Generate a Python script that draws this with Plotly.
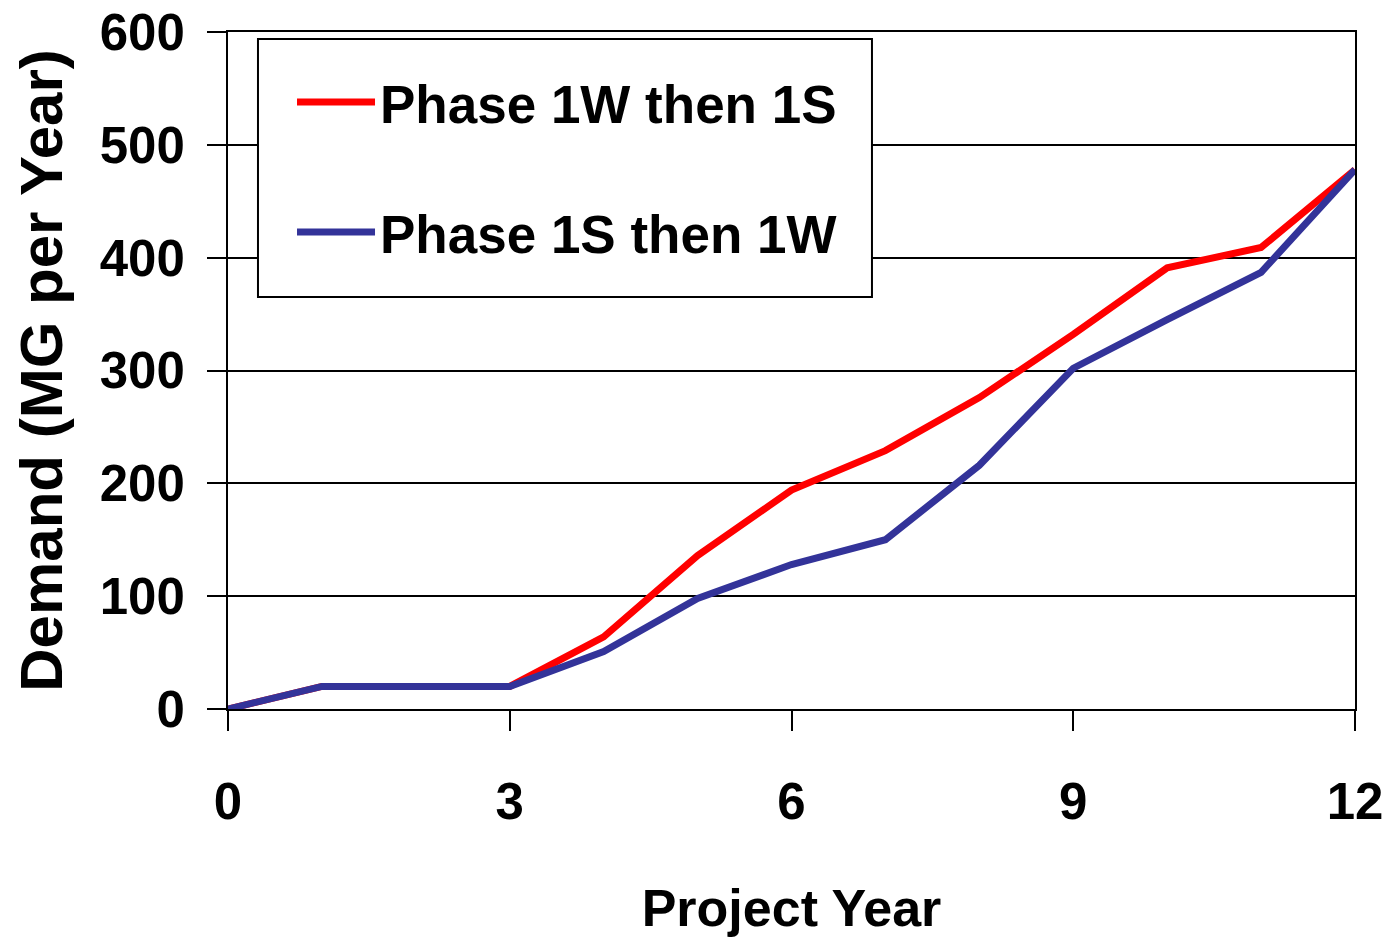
import plotly.graph_objects as go

years = [0, 1, 2, 3, 4, 5, 6, 7, 8, 9, 10, 11, 12]
phase_1w_then_1s = [0, 20, 20, 20, 64, 136, 194, 229, 276, 332, 391, 409, 478]
phase_1s_then_1w = [0, 20, 20, 20, 51, 98, 128, 150, 216, 302, 345, 387, 478]
series_names = ["Phase 1W then 1S", "Phase 1S then 1W"]
x_ticks = [0, 3, 6, 9, 12]
y_ticks = [0, 100, 200, 300, 400, 500, 600]

FONT = "Liberation Sans, Arial, sans-serif"

fig = go.Figure()
fig.add_trace(go.Scatter(x=years, y=phase_1w_then_1s, mode="lines", name=series_names[0],
                         legendgroup="a",
                         line=dict(color="#FF0000", width=7)))
fig.add_trace(go.Scatter(x=years, y=phase_1s_then_1w, mode="lines", name=series_names[1],
                         legendgroup="b",
                         line=dict(color="#333399", width=7)))

# legend frame
fig.add_shape(type="rect", xref="paper", yref="paper",
              x0=0.0266, x1=0.5714, y0=0.6086, y1=0.9897,
              fillcolor="white", line=dict(color="black", width=2), layer="above")

fig.update_layout(
    width=1385, height=934,
    margin=dict(l=220, r=38, t=24, b=233, autoexpand=False),
    paper_bgcolor="white", plot_bgcolor="white",
    font=dict(family=FONT, color="black", size=51),
    showlegend=True,
    legend=dict(
        x=0.0568, y=0.957, xanchor="left", yanchor="top",
        bgcolor="rgba(0,0,0,0)", borderwidth=0,
        font=dict(family=FONT, size=53, color="black", weight="bold"),
        tracegroupgap=58, traceorder="grouped",
        itemwidth=78,
    ),
    xaxis=dict(
        range=[0, 12], tickvals=x_ticks, ticktext=[str(v) for v in x_ticks],
        showgrid=False, zeroline=False, automargin=False,
        showline=True, linecolor="black", linewidth=2, mirror=True,
        ticks="outside", ticklen=20, tickwidth=2, tickcolor="black",
        tickfont=dict(family=FONT, size=51, color="black", weight="bold"),
        ticklabelstandoff=27, ticklabeloverflow="allow",
        title=dict(text="Project Year", standoff=60,
                   font=dict(family=FONT, size=52, color="black", weight="bold")),
    ),
    yaxis=dict(
        range=[0, 600], tickvals=y_ticks, ticktext=[str(v) for v in y_ticks],
        showgrid=True, gridcolor="black", gridwidth=2, zeroline=False, automargin=False,
        showline=True, linecolor="black", linewidth=2, mirror=True,
        ticks="outside", ticklen=19, tickwidth=2, tickcolor="black",
        tickfont=dict(family=FONT, size=51, color="black", weight="bold"),
        ticklabelstandoff=12, ticklabeloverflow="allow",
        title=dict(text="Demand (MG per Year)", standoff=20,
                   font=dict(family=FONT, size=60, color="black", weight="bold")),
    ),
)

fig.write_html("out.html")
